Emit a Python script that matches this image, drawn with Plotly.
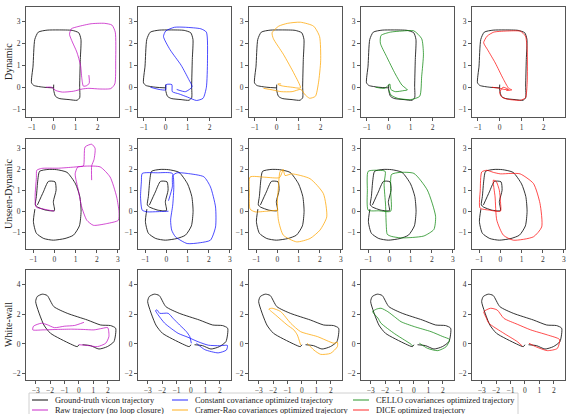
import plotly.graph_objects as go
from plotly.subplots import make_subplots

W, H = 569, 414

# ---------------- data ----------------
row_names = ["Dynamic", "Unseen-Dynamic", "White-wall"]
method_names = [
    "Raw trajectory (no loop closure)",
    "Constant covariance optimized trajectory",
    "Cramer-Rao covariances optimized trajectory",
    "CELLO covariances optimized trajectory",
    "DICE optimized trajectory",
]
gt_name = "Ground-truth vicon trajectory"

# Row 1: Dynamic
dyn_gt_x = [0.0, 0.0, 0.08, 0.25, 0.7, 1.06, 1.18, 1.18, 1.21, 1.24, 1.14, 0.84, 0.2, -0.3, -0.7, -0.86, -0.94, -1.01, -0.9, -0.45, 0.0]
dyn_gt_y = [0.12, -0.14, -0.41, -0.51, -0.56, -0.59, -0.48, 0.05, 1.26, 2.17, 2.47, 2.58, 2.6, 2.59, 2.5, 2.17, 0.96, 0.2, 0.08, 0.0, -0.03]
dyn_raw_x = [-0.35, -0.1, 0.1, 0.4, 0.9, 1.3, 1.6, 2.1, 2.6, 2.78, 2.82, 2.8, 2.65, 2.3, 1.7, 1.1, 0.8, 0.72, 0.85, 1.05, 1.22, 1.28, 1.35, 1.52, 1.62, 1.6]
dyn_raw_y = [0.0, 0.0, -0.15, -0.22, -0.18, -0.08, -0.05, -0.08, -0.06, 0.15, 1.2, 2.5, 2.82, 2.9, 2.88, 2.75, 2.65, 2.4, 2.05, 1.6, 1.0, 0.4, 0.05, 0.08, 0.2, 0.55]
dyn_cc_x = [-0.7, -0.3, 0.0, 0.02, 0.28, 0.3, 0.6, 1.0, 1.4, 1.7, 1.85, 1.9, 1.85, 1.6, 0.9, 0.4, 0.0, -0.1, 0.2, 0.7, 1.05, 1.2, 0.9, 0.5]
dyn_cc_y = [0.0, -0.1, -0.12, 0.12, 0.12, -0.2, -0.3, -0.45, -0.6, -0.5, 0.0, 1.2, 2.5, 2.65, 2.72, 2.72, 2.55, 2.3, 1.7, 1.0, 0.35, 0.02, -0.2, -0.1]
dyn_cr_x = [-0.6, -0.2, 0.2, 0.7, 1.1, 1.3, 1.5, 1.76, 1.9, 2.0, 1.95, 1.68, 1.08, 0.5, 0.09, -0.21, -0.15, 0.3, 0.8, 1.08, 0.7, 0.3, 0.1, 0.05, 0.2]
dyn_cr_y = [-0.05, -0.12, -0.2, -0.2, -0.1, -0.35, -0.5, -0.41, 0.2, 1.2, 2.3, 2.77, 2.95, 2.9, 2.77, 2.47, 2.2, 1.5, 0.6, -0.03, 0.0, 0.05, 0.1, 0.15, 0.15]
dyn_cello_x = [-0.6, -0.2, 0.0, 0.05, 0.1, 0.3, 0.7, 0.85, 0.6, 0.3, -0.1, -0.38, -0.35, 0.08, 0.6, 1.14, 1.5, 1.58, 1.5, 1.41, 1.0, 0.4, 0.1, 0.0]
dyn_cello_y = [0.0, -0.05, 0.1, 0.15, -0.1, -0.2, -0.15, -0.12, 0.1, 0.6, 1.4, 2.0, 2.35, 2.5, 2.55, 2.56, 2.2, 1.5, 0.5, -0.41, -0.56, -0.5, -0.35, -0.1]
dyn_dice_x = [-0.35, 0.0, 0.2, 0.4, 0.15, 0.0, 0.1, 0.4, 0.94, 1.17, 1.25, 1.25, 1.17, 0.94, 0.3, -0.27, -0.57, -0.73, -0.55, -0.2, 0.15, 0.41, 0.55, 0.3]
dyn_dice_y = [0.0, -0.05, -0.1, -0.1, 0.0, -0.25, -0.45, -0.55, -0.59, -0.48, 0.2, 1.71, 2.32, 2.54, 2.55, 2.5, 2.32, 2.02, 1.7, 1.1, 0.4, -0.05, -0.12, -0.15]

# Row 2: Unseen-Dynamic
un_gt_x = [-0.92, -0.99, -0.85, -0.5, -0.05, 0.5, 0.9, 1.18, 1.26, 1.2, 1.0, 0.6, 0.1, -0.3, -0.7, -0.78, -0.85, -0.9, -0.8, -0.4, 0.0, -0.05, 0.08, 0.03, -0.28, -0.52, -0.8]
un_gt_y = [0.1, -0.5, -1.05, -1.3, -1.38, -1.3, -1.14, -0.7, 0.0, 0.7, 1.3, 1.85, 1.98, 1.99, 1.9, 1.5, 0.7, 0.3, 0.2, 0.05, 0.03, 0.45, 1.0, 1.4, 1.42, 0.92, 0.3]
un_raw_x = [0.0, -0.5, -0.86, -0.91, -0.85, -0.83, -0.6, 0.2, 0.9, 1.5, 2.16, 2.63, 2.94, 3.05, 3.02, 2.47, 1.84, 1.53, 1.29, 1.13, 0.98, 1.1, 1.37, 1.45, 1.76, 1.92, 1.87, 1.76, 1.76]
un_raw_y = [0.0, 0.1, 0.2, 0.7, 1.6, 1.95, 2.04, 2.05, 2.1, 2.15, 2.11, 1.63, 0.68, -0.03, -0.43, -0.59, -0.67, -0.43, 0.2, 1.0, 1.78, 2.1, 2.16, 3.06, 3.19, 3.0, 2.46, 2.16, 1.48]
un_cc_x = [0.1, -0.4, -0.9, -1.14, -1.22, -1.18, -1.14, -0.43, 0.28, 0.35, 0.3, 0.2, 0.25, 0.43, 0.98, 1.6, 2.08, 2.32, 2.32, 2.08, 1.77, 0.98, 0.51, 0.3, 0.28, 0.1]
un_cc_y = [0.0, -0.02, -0.03, 0.05, 0.68, 1.4, 1.8, 1.83, 1.8, 1.2, 0.3, -0.43, -0.9, -1.22, -1.54, -1.5, -1.38, -0.75, 0.2, 1.16, 1.64, 1.8, 1.83, 1.7, 1.16, 0.5]
un_cr_x = [0.0, -0.5, -1.05, -1.29, -1.32, -1.29, -0.6, 0.1, 0.22, 0.28, 0.36, 0.68, 1.54, 2.17, 2.33, 2.01, 1.54, 0.91, 0.28, 0.05, 0.0, 0.05, 0.13, 0.28]
un_cr_y = [0.05, 0.0, -0.03, 0.1, 0.9, 1.63, 1.62, 1.6, 1.85, 1.98, 1.7, 1.78, 1.55, 0.84, -0.27, -0.9, -1.3, -1.46, -1.14, -0.43, 0.44, 1.16, 1.9, 1.98]
un_cello_x = [0.06, -0.5, -1.0, -1.04, -1.0, -0.5, -0.2, -0.25, -0.18, -0.15, -0.1, 0.1, 0.53, 1.1, 1.63, 2.1, 2.18, 1.79, 1.16, 0.5, 0.1, 0.06, 0.06]
un_cello_y = [0.0, 0.02, 0.05, 1.0, 1.9, 1.95, 1.9, 1.3, 0.3, -0.6, -1.1, -1.2, -1.27, -1.25, -1.18, -0.87, -0.24, 1.01, 1.8, 1.85, 1.75, 1.0, 0.0]
un_dice_x = [0.0, -0.5, -0.96, -0.95, -0.88, -0.64, -0.33, 0.0, 0.5, 0.93, 1.56, 1.87, 1.95, 1.56, 0.61, 0.14, -0.17, -0.25, -0.33, -0.2, -0.05, 0.0, 0.0]
un_dice_y = [0.0, 0.05, 0.15, 1.0, 1.87, 1.95, 1.85, 1.78, 1.8, 1.78, 1.32, 0.37, -0.75, -1.22, -1.38, -1.14, -0.43, 0.68, 1.48, 1.42, 1.0, 0.5, 0.0]

# Row 3: White-wall
ww_gt_x = [0.25, 0.8, 1.39, 1.97, 2.43, 2.55, 2.2, 1.51, 0.58, -0.81, -1.74, -2.2, -2.54, -2.89, -3.0, -2.43, -1.97, -0.58, -0.11, 0.0]
ww_gt_y = [-0.05, -0.11, -0.34, -0.18, 0.16, 1.06, 1.24, 1.28, 1.62, 2.07, 2.52, 3.27, 3.36, 3.2, 2.86, 1.28, 0.72, 0.0, -0.18, -0.05]
ww_raw_x = [0.0, 0.6, 1.28, 1.86, 2.08, 2.0, 1.6, 1.04, 0.3, -0.5, -1.5, -2.5, -3.2, -3.15, -2.6, -2.2, -1.7, -1.0, -0.3, 0.35]
ww_raw_y = [-0.05, -0.1, -0.18, 0.05, 0.5, 1.1, 1.05, 0.95, 0.98, 1.0, 0.98, 0.95, 0.95, 1.2, 1.4, 1.3, 1.1, 1.2, 1.25, 1.46]
ww_cc_x = [0.38, 0.96, 1.89, 2.46, 2.53, 2.0, 1.2, 0.5, -0.2, -0.89, -1.82, -2.3, -2.45, -2.35, -2.17, -1.58, -1.24, -0.78, -0.31, -0.08, 0.03]
ww_cc_y = [0.05, -0.38, -0.6, -0.41, -0.1, -0.12, -0.08, 0.15, 0.45, 0.72, 1.4, 2.0, 2.25, 2.3, 2.07, 2.07, 1.73, 1.28, 0.83, 0.5, 0.05]
ww_cr_x = [0.37, 0.83, 1.3, 1.99, 2.46, 2.46, 2.22, 1.07, -0.09, -0.78, -1.48, -2.06, -2.29, -1.83, -1.02, -0.56, -0.32, -0.09]
ww_cr_y = [0.05, -0.41, -0.7, -0.63, -0.18, 0.11, 0.05, 0.5, 0.83, 1.4, 2.19, 2.41, 2.36, 1.96, 1.28, 0.95, 0.61, -0.07]
ww_cello_x = [0.38, 0.96, 1.66, 2.24, 2.47, 2.0, 1.19, 0.03, -0.89, -1.35, -1.81, -2.28, -2.6, -2.86, -2.5, -2.28, -1.35, -0.66, -0.2, -0.08]
ww_cello_y = [0.05, -0.3, -0.45, -0.18, 0.3, 0.5, 0.83, 1.17, 1.5, 1.84, 2.18, 2.41, 2.35, 2.18, 1.75, 1.4, 0.7, 0.27, -0.02, -0.14]
ww_dice_x = [0.28, 0.74, 1.56, 2.25, 2.4, 1.56, 0.4, -0.53, -1.46, -1.92, -2.38, -2.85, -2.7, -2.5, -1.46, -0.53, -0.18]
ww_dice_y = [0.05, -0.18, -0.45, -0.3, 0.3, 0.61, 0.95, 1.33, 1.73, 2.29, 2.41, 2.18, 1.8, 1.4, 0.72, 0.16, -0.14]

x_tick_vals = [[-1, 0, 1, 2], [-1, 0, 1, 2, 3], [-3, -2, -1, 0, 1, 2]]
y_tick_vals = [[-1, 0, 1, 2, 3], [-1, 0, 1, 2, 3], [-2, 0, 2, 4]]

# ---------------- style ----------------
FONT = "Liberation Serif"
gt_color = "rgba(30,30,30,0.9)"
method_colors = ["rgba(191,0,191,0.7)", "rgba(0,0,255,0.7)", "rgba(255,165,0,0.75)",
                 "rgba(0,128,0,0.7)", "rgba(255,0,0,0.7)"]
x_ranges = [[-1.26, 2.97], [-1.34, 3.05], [-3.67, 2.78]]
y_ranges = [[-1.35, 3.64], [-1.8, 3.44], [-2.43, 4.99]]
col_left = [26, 138, 249, 361, 472]
panel_w = 93
row_top = [7, 139, 270]
panel_h = 110

rows = [
    ((dyn_gt_x, dyn_gt_y), [(dyn_raw_x, dyn_raw_y), (dyn_cc_x, dyn_cc_y), (dyn_cr_x, dyn_cr_y),
                            (dyn_cello_x, dyn_cello_y), (dyn_dice_x, dyn_dice_y)]),
    ((un_gt_x, un_gt_y), [(un_raw_x, un_raw_y), (un_cc_x, un_cc_y), (un_cr_x, un_cr_y),
                          (un_cello_x, un_cello_y), (un_dice_x, un_dice_y)]),
    ((ww_gt_x, ww_gt_y), [(ww_raw_x, ww_raw_y), (ww_cc_x, ww_cc_y), (ww_cr_x, ww_cr_y),
                          (ww_cello_x, ww_cello_y), (ww_dice_x, ww_dice_y)]),
]

fig = make_subplots(rows=3, cols=5)

for r, (gt, methods) in enumerate(rows):
    for c, (mx, my) in enumerate(methods):
        fig.add_trace(go.Scatter(x=gt[0], y=gt[1], mode="lines", name=gt_name, showlegend=False,
                                 line=dict(color=gt_color, width=1, shape="spline", smoothing=0.6)),
                      row=r + 1, col=c + 1)
        fig.add_trace(go.Scatter(x=mx, y=my, mode="lines", name=method_names[c], showlegend=False,
                                 line=dict(color=method_colors[c], width=1, shape="spline", smoothing=0.6)),
                      row=r + 1, col=c + 1)
        k = r * 5 + c + 1
        sfx = "" if k == 1 else str(k)
        x0 = col_left[c] / W
        x1 = (col_left[c] + panel_w) / W
        y1 = 1 - row_top[r] / H
        y0 = 1 - (row_top[r] + panel_h) / H
        common = dict(showgrid=False, zeroline=False, showline=True, mirror=True,
                      linecolor="#555", linewidth=1, ticks="outside", ticklen=3,
                      tickcolor="#555", tickwidth=1,
                      tickfont=dict(family=FONT, size=7.5, color="#333"))
        fig.layout["xaxis" + sfx].update(domain=[x0, x1], range=x_ranges[r],
                                          tickvals=x_tick_vals[r], **common)
        fig.layout["yaxis" + sfx].update(domain=[y0, y1], range=y_ranges[r],
                                          tickvals=y_tick_vals[r], **common)

# row labels
for r, name in enumerate(row_names):
    fig.add_annotation(text=name, xref="paper", yref="paper", x=8 / W,
                       y=1 - (row_top[r] + panel_h / 2) / H, textangle=-90,
                       showarrow=False, xanchor="center", yanchor="middle",
                       font=dict(family=FONT, size=10, color="#222"))

# legend (drawn manually: 3 columns x 2 rows)
legend_names = [gt_name] + method_names
legend_colors = [gt_color] + method_colors
leg_cols_x = [32, 172, 353]
leg_rows_y = [400, 410]
fig.add_shape(type="rect", xref="paper", yref="paper", x0=29 / W, x1=518 / W,
              y0=1 - 420 / H, y1=1 - 393 / H, line=dict(color="#d0d0d0", width=1),
              fillcolor="white", layer="below")
for i, (nm, col) in enumerate(zip(legend_names, legend_colors)):
    cx = leg_cols_x[i // 2]
    cy = leg_rows_y[i % 2]
    fig.add_shape(type="line", xref="paper", yref="paper", x0=cx / W, x1=(cx + 16) / W,
                  y0=1 - cy / H, y1=1 - cy / H, line=dict(color=col, width=1.2))
    fig.add_annotation(text=nm, xref="paper", yref="paper", x=(cx + 21) / W, y=1 - cy / H,
                       xanchor="left", yanchor="middle", showarrow=False,
                       font=dict(family=FONT, size=8.4, color="#222"))

fig.update_layout(width=W, height=H, margin=dict(l=0, r=0, t=0, b=0),
                  paper_bgcolor="white", plot_bgcolor="white", showlegend=False)

fig.write_html("out.html")
